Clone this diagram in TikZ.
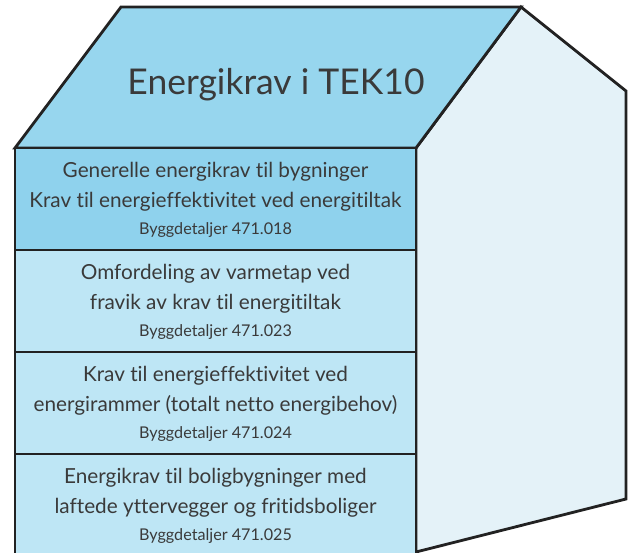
\documentclass[tikz,border=0pt]{standalone}
\usepackage{fontspec}
\setmainfont{Lato}[Ligatures=NoCommon]
\usepackage{xcolor}
\usetikzlibrary{positioning}

\definecolor{roofblue}{HTML}{97D6EE}
\definecolor{topblue}{HTML}{8FD2ED}
\definecolor{lowblue}{HTML}{BEE6F5}
\definecolor{sideblue}{HTML}{E4F2F8}
\definecolor{edge}{HTML}{222222}
\definecolor{ink}{HTML}{3A3A3A}

\tikzset{
    wall/.style={draw=edge, line width=1.6pt, line join=miter},
    maintext/.style={text=ink, font=\fontsize{11.8}{17.6}\selectfont, align=center, anchor=base, inner sep=0pt},
    reftext/.style={text=ink, font=\fontsize{9.2}{10}\selectfont, anchor=base, inner sep=0pt}
}

\begin{document}
\begin{tikzpicture}[x=0.02cm, y=-0.02cm]
    \useasboundingbox (0,0) rectangle (633,553);
    \clip (0,0) rectangle (633,553);
    % side wall
    \filldraw[wall, fill=sideblue] (416,148) -- (521,7) -- (626,91) -- (626,499) -- (416,552) -- cycle;
    % roof
    \filldraw[wall, fill=roofblue] (15,148) -- (121,7) -- (521,7) -- (416,148) -- cycle;
    \node[text=ink, font=\fontsize{20.2}{22}\selectfont, anchor=base] (title) at (276,95) {Energikrav i TEK10};
    % front wall, one panel per requirement
    \filldraw[wall, fill=topblue] (15,148) rectangle (416,250);
    \foreach \y in {250,352,454}
        \filldraw[wall, fill=lowblue] (15,\y) rectangle (416,\y+102);
    % two-line nodes sit on the baseline of their last line
    \node[maintext] (gen) at (215.5,208) {Generelle energikrav til bygninger\\Krav til energieffektivitet ved energitiltak};
    \node[reftext] (genref) at (215.5,235) {Byggdetaljer 471.018};
    \node[maintext] (omf) at (215.5,310) {Omfordeling av varmetap ved\\fravik av krav til energitiltak};
    \node[reftext] (omfref) at (215.5,337) {Byggdetaljer 471.023};
    \node[maintext] (ramme) at (215.5,412) {Krav til energieffektivitet ved\\energirammer (totalt netto energibehov)};
    \node[reftext] (rammeref) at (215.5,439) {Byggdetaljer 471.024};
    \node[maintext] (bolig) at (215.5,514) {Energikrav til boligbygninger med\\laftede yttervegger og fritidsboliger};
    \node[reftext] (boligref) at (215.5,541) {Byggdetaljer 471.025};
\end{tikzpicture}
\end{document}
